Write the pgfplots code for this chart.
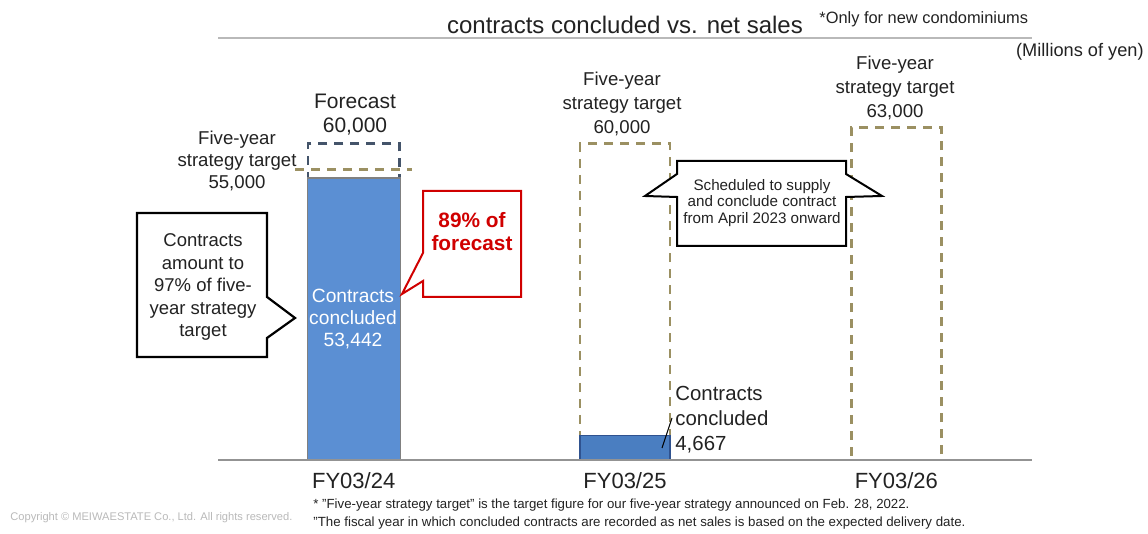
\documentclass[border=0pt]{standalone}
\usepackage{pgfplots}
\pgfplotsset{compat=1.18}
\usepackage{fontspec}
\setmainfont{Liberation Sans}
\definecolor{barblue}{HTML}{5B8FD3}
\definecolor{barblue2}{HTML}{4A7EC1}
\definecolor{baredge2}{HTML}{2F528F}
\definecolor{olivedash}{HTML}{9B9062}
\definecolor{fcst}{HTML}{44546A}
\definecolor{redc}{HTML}{D00000}
\definecolor{txt}{HTML}{222222}
\begin{document}
\begin{tikzpicture}
\useasboundingbox (0,0) rectangle (574pt,267pt);
\begin{axis}[
  at={(109pt,37pt)}, anchor=south west,
  width=407pt, height=211pt, scale only axis,
  xmin=-0.5, xmax=2.5, ymin=0, ymax=80000,
  axis x line*=bottom, axis y line=none,
  x axis line style={draw=gray!85, line width=0.7pt},
  xtick={0,1,2}, xticklabels={FY03/24,FY03/25,FY03/26},
  xtick style={draw=none},
  xticklabel style={font=\fontsize{11}{13}\selectfont, text=txt, anchor=center, yshift=-10.5pt, inner sep=0pt},
  ytick=\empty,
  clip=false,
  axis on top,
]
% five-year strategy target boxes FY03/25, FY03/26
\addplot[ybar, bar width=0.332, bar shift=0pt, draw=olivedash, fill=none, line width=1.4pt, dash pattern=on 4.5pt off 3.5pt]
  coordinates {(1,60000) (2,63000)};
% forecast FY03/24
\addplot[ybar, bar width=0.337, bar shift=0pt, draw=fcst, fill=none, line width=1.4pt, dash pattern=on 4.5pt off 3.5pt]
  coordinates {(0,60000)};
% contracts concluded
\addplot[ybar, bar width=0.343, bar shift=0pt, draw=gray, fill=barblue, line width=0.6pt]
  coordinates {(0,53442)};
\addplot[ybar, bar width=0.332, bar shift=0pt, draw=baredge2, fill=barblue2, line width=0.6pt]
  coordinates {(1,4667)};
% five-year target FY03/24
\addplot[olivedash, line width=1.4pt, dash pattern=on 4.5pt off 3.5pt]
  coordinates {(-0.216,55000) (0.215,55000)};
\end{axis}
\begin{scope}[x=0.5pt, y=-0.5pt, yshift=267pt]
  \draw[gray!55, line width=0.6pt] (218,38) -- (1032,38);
  \node[inner sep=0pt, font=\fontsize{12}{14}\selectfont, text=txt] at (625,25) {contracts concluded vs. net sales};
  \node[inner sep=0pt, anchor=west, font=\fontsize{8.2}{10}\selectfont, text=txt] at (819,19) {*Only for new condominiums};
  \node[inner sep=0pt, anchor=east, font=\fontsize{9.1}{11}\selectfont, text=txt] at (1144,52) {(Millions of yen)};
  % labels of targets
  \node[inner sep=0pt, align=center, font=\fontsize{10.5}{12}\selectfont, text=txt] at (355,115) {Forecast\\60,000};
  \node[inner sep=0pt, align=center, font=\fontsize{9.3}{11}\selectfont, text=txt] at (237,161) {Five-year\\strategy target\\55,000};
  \node[inner sep=0pt, align=center, font=\fontsize{9.3}{12}\selectfont, text=txt] at (622,104) {Five-year\\strategy target\\60,000};
  \node[inner sep=0pt, align=center, font=\fontsize{9.3}{12}\selectfont, text=txt] at (895,88) {Five-year\\strategy target\\63,000};
  % bar labels
  \node[inner sep=0pt, align=center, font=\fontsize{9.6}{11}\selectfont, text=white] at (353,319) {Contracts\\concluded\\53,442};
  \node[inner sep=0pt, anchor=west, align=left, font=\fontsize{10.2}{12.5}\selectfont, text=txt] at (675,420) {Contracts\\concluded\\4,667};
  \draw[black, line width=0.5pt] (662,448) -- (672,418);
  % black callout
  \draw[black, line width=1.1pt, fill=white] (137,213) -- (267,213) -- (267,297) -- (295,318) -- (267,338) -- (267,357) -- (137,357) -- cycle;
  \node[inner sep=0pt, align=center, font=\fontsize{9.25}{11.25}\selectfont, text=txt] at (203,287) {Contracts\\amount to\\97\% of five-\\year strategy\\target};
  % red callout
  \draw[redc, line width=1pt, fill=white] (423,191) -- (423,253) -- (402,294) -- (423,281) -- (423,297) -- (521,297) -- (521,191) -- cycle;
  \node[inner sep=0pt, align=center, font=\bfseries\fontsize{10.4}{11.5}\selectfont, text=redc] at (472,232) {89\% of\\forecast};
  % arrow callout
  \draw[black, line width=1pt, fill=white] (677,161) -- (846,161) -- (846,174) -- (882,196) -- (846,197) -- (846,246) -- (677,246) -- (677,197) -- (645,196) -- (677,174) -- cycle;
  \node[inner sep=0pt, align=center, font=\fontsize{7.6}{8.3}\selectfont, text=txt] at (762,203) {Scheduled to supply\\and conclude contract\\from April 2023 onward};
  % footnotes
  \node[inner sep=0pt, anchor=west, text=txt] at (313,505) {\resizebox{298pt}{!}{\fontsize{6.2}{7}\selectfont * "Five-year strategy target" is the target figure for our five-year strategy announced on Feb. 28, 2022.}};
  \node[inner sep=0pt, anchor=west, text=txt] at (313,523) {\resizebox{326pt}{!}{\fontsize{6.2}{7}\selectfont "The fiscal year in which concluded contracts are recorded as net sales is based on the expected delivery date.}};
  \node[inner sep=0pt, anchor=west, text=gray!55] at (10,518) {\resizebox{141pt}{!}{\fontsize{5}{6}\selectfont Copyright © MEIWAESTATE Co., Ltd. All rights reserved.}};
\end{scope}
\end{tikzpicture}
\end{document}
